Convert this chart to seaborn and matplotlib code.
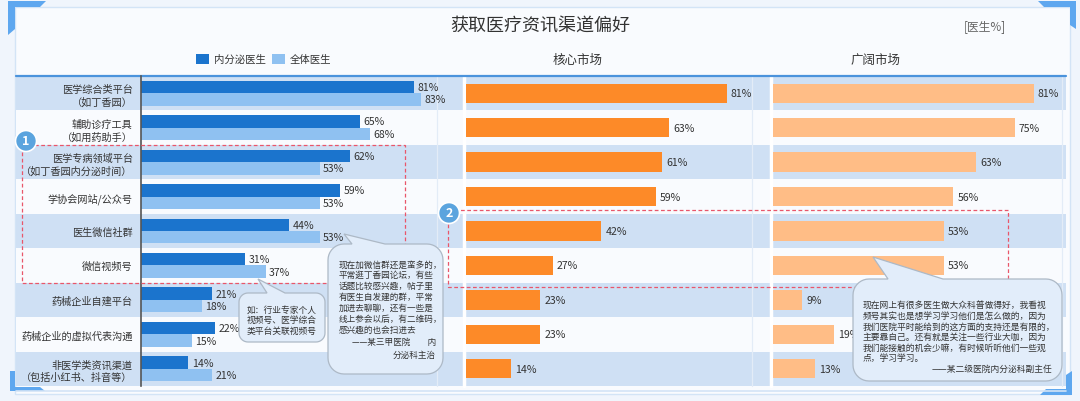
import matplotlib
matplotlib.use("Agg")
import matplotlib.pyplot as plt
import seaborn as sns
import pandas as pd
import numpy as np
from matplotlib.patches import Rectangle, Polygon, Circle

# ---------------- data ----------------
categories = [
    "医学综合类平台\n（如丁香园）",
    "辅助诊疗工具\n（如用药助手）",
    "医学专病领域平台\n（如丁香园内分泌时间）",
    "学协会网站/公众号",
    "医生微信社群",
    "微信视频号",
    "药械企业自建平台",
    "药械企业的虚拟代表沟通",
    "非医学类资讯渠道\n（包括小红书、抖音等）",
]
endo_doctors = [81, 65, 62, 59, 44, 31, 21, 22, 14]
all_doctors = [83, 68, 53, 53, 53, 37, 18, 15, 21]
core_market = [81, 63, 61, 59, 42, 27, 23, 23, 14]
broad_market = [81, 75, 63, 56, 53, 53, 9, 19, 13]
series_names = ["内分泌医生", "全体医生"]
panel_titles = ["核心市场", "广阔市场"]
title_text = "获取医疗资讯渠道偏好"
unit_text = "[医生%]"

note_small = ["如：行业专家个人", "视频号、医学综合", "类平台关联视频号"]
note_mid = ["现在加微信群还是蛮多的，", "平常逛丁香园论坛，有些", "话题比较感兴趣，帖子里",
            "有医生自发建的群，平常", "加进去聊聊，还有一些是", "线上参会以后，有二维码，",
            "感兴趣的也会扫进去"]
note_mid_sign = ["——某三甲医院　　内", "分泌科主治"]
note_right = ["现在网上有很多医生做大众科普做得好，我看视", "频号其实也是想学习学习他们是怎么做的，因为",
              "我们医院平时能给到的这方面的支持还是有限的，", "主要靠自己。还有就是关注一些行业大咖，因为",
              "我们能接触的机会少嘛，有时候听听他们一些观", "点，学习学习。"]
note_right_sign = "——某二级医院内分泌科副主任"

# ---------------- style ----------------
sns.set_theme(style="white")
plt.rcParams['font.family'] = ['Noto Sans CJK SC', 'DejaVu Sans']

DARK = "#1b74cd"
LIGHT = "#8fc1f1"
ORANGE = "#fd8a28"
LORANGE = "#ffbd86"
SHADE = "#cfe0f4"
WHITE = "#f9fbfe"
TXT = "#333333"

W, H = 1080, 402
fig = plt.figure(figsize=(W / 100, H / 100), dpi=100, facecolor="#f0f5fc")
bg = fig.add_axes([0, 0, 1, 1])
bg.set_xlim(0, W)
bg.set_ylim(H, 0)
bg.axis("off")

# card
bg.add_patch(Rectangle((15, 8), 1055, 387, fc="#f9fbfe", ec="#d3e4f6", lw=1))
blue_c = "#5ea7ef"
bg.add_patch(Polygon([(8, 2), (46, 2), (40, 8), (15, 8), (15, 30), (8, 36)], closed=True, fc=blue_c, ec="none"))
bg.add_patch(Polygon([(1073, 2), (1038, 2), (1044, 8), (1070, 8), (1070, 26), (1076, 30), (1076, 2)], closed=True, fc=blue_c, ec="none"))
bg.add_patch(Polygon([(10, 372), (10, 392), (45, 392), (40, 388), (15, 388), (15, 372)], closed=True, fc=blue_c, ec="none"))
bg.add_patch(Polygon([(1072, 372), (1072, 396), (1040, 396), (1046, 390), (1066, 390), (1066, 376)], closed=True, fc=blue_c, ec="none"))

# faint watermarks
wm = dict(color="#9aa6b4", alpha=0.07, ha="center", va="center", zorder=0.5)
bg.text(250, 64, "丁香园", fontsize=30, rotation=35, **wm)
bg.text(640, 110, "dlmc", fontsize=56, fontweight="bold", rotation=30, **wm)
bg.text(760, 300, "丁香园", fontsize=34, rotation=35, **wm)
bg.text(960, 180, "dlmc", fontsize=56, fontweight="bold", rotation=30, **wm)

# row bands
TOP, BOT = 77, 387
n = len(categories)
rh = (BOT - TOP) / n
for i in range(n):
    bg.add_patch(Rectangle((16, TOP + i * rh), 1050, rh, fc=SHADE if i % 2 == 0 else WHITE, ec="none", zorder=1))
for xv in (464, 771):
    bg.plot([xv, xv], [TOP, BOT], color="white", lw=2.5, zorder=1.5)
for xv in (437, 752, 1062):
    bg.plot([xv, xv], [TOP, BOT], color="#e3ecf7", lw=0.9, zorder=1.4)
bg.plot([16, 1066], [TOP, TOP], color="#4b93dc", lw=1.6, zorder=2)
bg.plot([16, 1066], [BOT + 5, BOT + 5], color="#d3e4f6", lw=1.2, zorder=2)

# titles
bg.text(540, 27, title_text, ha="center", va="center", fontsize=13, color=TXT, zorder=3)
bg.text(985, 27, unit_text, ha="center", va="center", fontsize=8.5, color="#666666", zorder=3)
bg.text(578, 60, panel_titles[0], ha="center", va="center", fontsize=9, color=TXT, zorder=3)
bg.text(876, 60, panel_titles[1], ha="center", va="center", fontsize=9, color=TXT, zorder=3)

# legend
bg.add_patch(Rectangle((196, 55), 13, 9.5, fc=DARK, ec="none", zorder=3))
bg.text(214, 60, series_names[0], ha="left", va="center", fontsize=7.5, color=TXT, zorder=3)
bg.add_patch(Rectangle((272, 55), 13, 9.5, fc=LIGHT, ec="none", zorder=3))
bg.text(290, 60, series_names[1], ha="left", va="center", fontsize=7.5, color=TXT, zorder=3)


def fig_axes(x0, x1):
    return fig.add_axes([x0 / W, (H - BOT) / H, (x1 - x0) / W, (BOT - TOP) / H], facecolor="none")


# ---------------- left panel ----------------
axL = fig_axes(141, 466)
df_left = pd.DataFrame({
    "渠道": categories * 2,
    "比例": endo_doctors + all_doctors,
    "人群": [series_names[0]] * n + [series_names[1]] * n,
})
sns.barplot(data=df_left, y="渠道", x="比例", hue="人群", orient="h", palette=[DARK, LIGHT],
            width=0.72, saturation=1, linewidth=0, legend=False, ax=axL)
axL.set_xlim(0, 325 / 3.37)
axL.set_ylim(n - 0.5, -0.5)
for c in axL.containers:
    axL.bar_label(c, fmt="%g%%", padding=2.5, fontsize=7.6, color=TXT)
axL.set_xlabel("")
axL.set_ylabel("")
axL.set_xticks([])
axL.tick_params(axis="y", length=0, pad=6, labelsize=7.3, labelcolor=TXT)
for lab in axL.get_yticklabels():
    lab.set_linespacing(1.3)
for s in ("top", "right", "bottom"):
    axL.spines[s].set_visible(False)
axL.spines["left"].set_color("#555555")
axL.spines["left"].set_linewidth(1.2)

# ---------------- middle / right panels ----------------
for (x0, x1, vals, col) in ((466, 771, core_market, ORANGE), (773, 1066, broad_market, LORANGE)):
    ax = fig_axes(x0, x1)
    dfp = pd.DataFrame({"渠道": categories, "比例": vals})
    sns.barplot(data=dfp, y="渠道", x="比例", orient="h", color=col, width=0.56,
                saturation=1, linewidth=0, ax=ax)
    ax.set_xlim(0, (x1 - x0) / 3.22)
    ax.set_ylim(n - 0.5, -0.5)
    for c in ax.containers:
        ax.bar_label(c, fmt="%g%%", padding=3, fontsize=7.6, color=TXT)
    ax.set_xlabel("")
    ax.set_ylabel("")
    ax.set_xticks([])
    ax.set_yticks([])
    for s in ax.spines.values():
        s.set_visible(False)

# ---------------- highlight boxes ----------------
ov = fig.add_axes([0, 0, 1, 1], facecolor="none")
ov.set_xlim(0, W)
ov.set_ylim(H, 0)
ov.axis("off")
RED = "#e9566a"
ov.add_patch(Rectangle((22, 146), 383, 138, fc="none", ec=RED, lw=0.9, ls=(0, (3, 2))))
ov.add_patch(Rectangle((448, 211), 560, 77, fc="none", ec=RED, lw=0.9, ls=(0, (3, 2))))
for (cx, cy, t) in ((26, 142, "1"), (449, 214, "2")):
    ov.add_patch(Circle((cx, cy), 10.5, fc="#5ba4de", ec="white", lw=1.2))
    ov.text(cx, cy, t, ha="center", va="center", fontsize=9, color="white", fontweight="bold")


# ---------------- speech bubbles ----------------
def bubble(x0, y0, x1, y1, r, b0, b1, tip):
    pts = [(x0 + r, y0), (b0, y0), tip, (b1, y0), (x1 - r, y0)]

    def arc(cx, cy, a0, a1):
        a = np.linspace(np.radians(a0), np.radians(a1), 10)
        return [(cx + r * np.cos(t), cy + r * np.sin(t)) for t in a]

    pts += arc(x1 - r, y0 + r, -90, 0)
    pts += arc(x1 - r, y1 - r, 0, 90)
    pts += arc(x0 + r, y1 - r, 90, 180)
    pts += arc(x0 + r, y0 + r, 180, 270)
    ov.add_patch(Polygon(pts, closed=True, fc="#e2edfa", ec="#adb9c6", lw=0.9))


bubble(239, 294, 325, 343, 9, 267, 285, (258, 280))
for k, line in enumerate(note_small):
    ov.text(247, 310 + k * 10.5, line, ha="left", va="center", fontsize=6.3, color=TXT)

bubble(328, 245, 443, 375, 16, 352, 385, (344, 235))
for k, line in enumerate(note_mid):
    ov.text(339, 265 + k * 10.8, line, ha="left", va="center", fontsize=6.2, color=TXT)
ov.text(436, 342, note_mid_sign[0], ha="right", va="center", fontsize=6.2, color=TXT)
ov.text(436, 355, note_mid_sign[1], ha="right", va="center", fontsize=6.2, color=TXT)

bubble(853, 280, 1062, 382, 16, 888, 943, (873, 258))
for k, line in enumerate(note_right):
    ov.text(863, 306 + k * 10.5, line, ha="left", va="center", fontsize=6.3, color=TXT)
ov.text(1052, 369, note_right_sign, ha="right", va="center", fontsize=6.3, color=TXT)

fig.savefig("out.png", dpi=100, facecolor=fig.get_facecolor())
